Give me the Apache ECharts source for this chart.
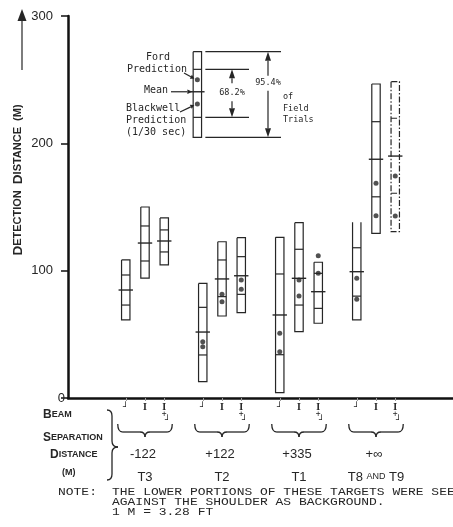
<!DOCTYPE html>
<html>
<head>
<meta charset="utf-8">
<script src="https://cdn.jsdelivr.net/npm/echarts@6/dist/echarts.min.js"></script>
<style>
  html, body { margin: 0; padding: 0; background: #fff; }
  #chart { width: 453px; height: 527px; }
</style>
</head>
<body>
<div id="chart"></div>
<script>
// ---- data -------------------------------------------------------------
// x slot of each box (gaps between the target groups)
const slots = [0, 1, 2, 4, 5, 6, 8, 9, 10, 12, 13, 14];
// beam configuration of each box: L = low, M = mixed, H = high
const beamKinds = ['L', 'M', 'H', 'L', 'M', 'H', 'L', 'M', 'H', 'L', 'M', 'H'];
// 95.4% of field trials (lower / upper), metres
const lower95 = [61.3, 94.2, 104.5, 12.8, 64.4, 67.0, 4.2, 52.1, 58.7, 61.3, 129.3, 130.6];
const upper95 = [108.4, 150.0, 141.4, 90.0, 122.7, 125.9, 126.2, 137.7, 106.6, 138.0, 246.6, 248.4];
// 68.2% of field trials (lower / upper)
const lower68 = [73.0, 107.6, 114.7, 33.8, 79.6, 81.4, 34.0, 73.0, 70.4, 80.0, 158.0, 160.8];
const upper68 = [96.6, 135.1, 132.0, 71.2, 108.4, 111.0, 97.4, 116.8, 97.9, 118.0, 217.0, 219.7];
// mean detection distance
const means = [84.8, 121.7, 123.3, 51.8, 93.5, 96.0, 65.2, 94.0, 83.5, 99.2, 187.5, 190.0];
// model predictions
const fordPred = [null, null, null, 44.2, 81.4, 92.7, 50.8, 92.7, 111.8, 94.0, 168.6, 174.3];
const blackwellPred = [null, null, null, 40.3, 75.6, 85.4, 36.4, 80.1, 97.9, 77.5, 143.2, 142.9];

// target groups
const groupLabels = ['T3', 'T2', 'T1', 'T8 AND T9'];
const separations = ['-122', '+122', '+335', '+\u221e'];

// explanatory key box
const keySlot = 3.72;
const keyRange95 = [204.7, 272.0];
const keyRange68 = [220.4, 258.1];
const keyMean = 240.5;
const keyFord = 250.0;
const keyBlackwell = 230.8;

const yTicks = [0, 100, 200, 300];

// box 11 (T9) is drawn dash-dot, box 9 has no top cap
const dashedBoxes = [11];
const openTopBoxes = [9];

// ---- drawing ----------------------------------------------------------
const INK = '#262626';
const chart = echarts.init(document.getElementById('chart'));

const boxData = slots.map((s, i) => [s, lower95[i], upper95[i], lower68[i], upper68[i], means[i], i]);
boxData.push([keySlot, keyRange95[0], keyRange95[1], keyRange68[0], keyRange68[1], keyMean, -1]);

const dotData = [];
slots.forEach((s, i) => {
  if (fordPred[i] != null) dotData.push([s, fordPred[i]]);
  if (blackwellPred[i] != null) dotData.push([s, blackwellPred[i]]);
});
dotData.push([keySlot, keyFord], [keySlot, keyBlackwell]);

function renderBox(params, api) {
  const x = api.value(0);
  const lo = api.coord([x, api.value(1)]);
  const cx = lo[0], yLo = lo[1];
  const yHi = api.coord([x, api.value(2)])[1];
  const y68lo = api.coord([x, api.value(3)])[1];
  const y68hi = api.coord([x, api.value(4)])[1];
  const yMean = api.coord([x, api.value(5)])[1];
  const idx = api.value(6);
  const hw = 4.2;
  const L = cx - hw, R = cx + hw;
  const st = { stroke: INK, lineWidth: 1.2, fill: null };
  if (dashedBoxes.indexOf(idx) >= 0) st.lineDash = [6, 2, 1.5, 2];
  const pts = openTopBoxes.indexOf(idx) >= 0
    ? [[L, yHi], [L, yLo], [R, yLo], [R, yHi]]
    : [[L, yHi], [L, yLo], [R, yLo], [R, yHi], [L, yHi]];
  const children = [
    { type: 'polyline', shape: { points: pts }, style: st },
    { type: 'line', shape: { x1: L, y1: y68lo, x2: R, y2: y68lo }, style: st },
    { type: 'line', shape: { x1: L, y1: y68hi, x2: R, y2: y68hi }, style: st },
    { type: 'line', shape: { x1: L - 3, y1: yMean, x2: R + 3, y2: yMean }, style: { stroke: INK, lineWidth: 1.4 } }
  ];
  return { type: 'group', children };
}

function beamLabel(v) {
  const i = slots.indexOf(v);
  if (i < 0) return '';
  const k = beamKinds[i];
  if (k === 'L') return '{g|\u2518}';
  if (k === 'M') return '{i|I}';
  return '{i|I}\n{p|+}\n{r|\u2518}';
}

chart.setOption({
  animation: false,
  backgroundColor: '#fff',
  grid: { left: 68, right: 0, top: 16, bottom: 129, containLabel: false },
  xAxis: {
    type: 'value', min: -3, max: 17,
    axisLine: { onZero: false, lineStyle: { color: '#111', width: 2.5 } },
    axisTick: { customValues: slots, length: 3, lineStyle: { color: '#999', width: 1 } },
    axisLabel: {
      customValues: slots, margin: 5, color: INK, formatter: beamLabel,
      rich: {
        g: { fontFamily: 'DejaVu Sans Mono', fontSize: 9, lineHeight: 9, color: INK },
        i: { fontFamily: 'Liberation Serif', fontSize: 10, fontWeight: 'bold', lineHeight: 8, color: INK },
        p: { fontFamily: 'DejaVu Sans Mono', fontSize: 8, lineHeight: 5, color: INK },
        r: { fontFamily: 'DejaVu Sans Mono', fontSize: 9, lineHeight: 9, padding: [0, 0, 0, 7], color: INK }
      }
    },
    splitLine: { show: false }
  },
  yAxis: {
    type: 'value', min: 0, max: 300, interval: 100,
    axisLine: { show: true, onZero: false, lineStyle: { color: '#111', width: 2.5 } },
    axisTick: { show: true, length: 7, lineStyle: { color: '#111', width: 1.5 } },
    axisLabel: {
      margin: 3,
      customValues: yTicks,
      formatter: v => (v === 0 ? '{z|0}' : '{n|' + v + '}'),
      rich: {
        z: { fontFamily: 'Liberation Sans', fontSize: 13, color: INK },
        n: { fontFamily: 'Liberation Sans', fontSize: 13, color: INK, padding: [0, 12, 0, 0] }
      }
    },
    splitLine: { show: false }
  },
  series: [
    { type: 'custom', renderItem: renderBox, data: boxData, clip: false, z: 2,
      encode: { x: 0, y: [1, 2] } },
    { type: 'scatter', data: dotData, symbol: 'circle', symbolSize: 5,
      itemStyle: { color: INK }, z: 3 }
  ]
});

// ---- annotations (key, axis title, group labels, note) -----------------
const px = (x, y) => chart.convertToPixel({ gridIndex: 0 }, [x, y]);
const yPx = v => px(0, v)[1];
const xPx = s => px(s, 0)[0];

function arrowEls(x1, y1, x2, y2, len, w) {
  const dx = x2 - x1, dy = y2 - y1, d = Math.hypot(dx, dy);
  const ux = dx / d, uy = dy / d;
  const bx = x2 - ux * len, by = y2 - uy * len;
  return [
    { type: 'line', shape: { x1, y1, x2: bx, y2: by }, style: { stroke: INK, lineWidth: 1.2 } },
    { type: 'polygon', shape: { points: [[x2, y2], [bx - uy * w, by + ux * w], [bx + uy * w, by - ux * w]] },
      style: { fill: INK } }
  ];
}
function txt(x, y, text, o) {
  o = o || {};
  return {
    type: 'text', x, y, rotation: o.rotation || 0, scaleX: o.scaleX || 1,
    style: {
      text, fill: INK,
      font: o.font || '10px "DejaVu Sans Mono"',
      textAlign: o.align || 'left', textVerticalAlign: 'middle', verticalAlign: 'middle',
      rich: o.rich
    }
  };
}
function line(x1, y1, x2, y2, w) {
  return { type: 'line', shape: { x1, y1, x2, y2 }, style: { stroke: INK, lineWidth: w || 1.2 } };
}
function curve(x1, y1, cx, cy, x2, y2, w) {
  return { type: 'bezierCurve', shape: { x1, y1, x2, y2, cpx1: cx, cpy1: cy },
    style: { stroke: INK, lineWidth: w || 1.2, fill: null } };
}
// horizontal brace opening upwards, point downwards
function hBrace(x1, x2, yEnd, yBar, yTip) {
  const m = (x1 + x2) / 2, r = 5;
  return [
    curve(x1, yEnd, x1, yBar, x1 + r, yBar, 1.3),
    line(x1 + r, yBar, m - r, yBar, 1.3),
    curve(m - r, yBar, m, yBar, m, yTip, 1.3),
    curve(m, yTip, m, yBar, m + r, yBar, 1.3),
    line(m + r, yBar, x2 - r, yBar, 1.3),
    curve(x2 - r, yBar, x2, yBar, x2, yEnd, 1.3)
  ];
}
// vertical brace opening leftwards, point to the right
function vBrace(y1, y2, xEnd, xBar, xTip, yMid) {
  const r = 6;
  return [
    curve(xEnd, y1, xBar, y1, xBar, y1 + r, 1.3),
    line(xBar, y1 + r, xBar, yMid - r, 1.3),
    curve(xBar, yMid - r, xBar, yMid, xTip, yMid, 1.3),
    curve(xTip, yMid, xBar, yMid, xBar, yMid + r, 1.3),
    line(xBar, yMid + r, xBar, y2 - r, 1.3),
    curve(xBar, y2 - r, xBar, y2, xEnd, y2, 1.3)
  ];
}

const els = [];

// vertical axis title with its arrow
const sc = {
  b: { fontFamily: 'Liberation Sans', fontSize: 13.5, fontWeight: 'bold', fill: INK, color: INK },
  s: { fontFamily: 'Liberation Sans', fontSize: 11, fontWeight: 'bold', fill: INK, color: INK }
};
els.push(txt(18, 180, '{b|D}{s|ETECTION} {b|D}{s|ISTANCE} {s|(M)}', { rotation: Math.PI / 2, align: 'center', rich: sc }));
els.push(...arrowEls(22, 70, 22, 9, 12, 4.5));

// key box legend
const kx = xPx(keySlot);
const kTop = yPx(keyRange95[1]), kBot = yPx(keyRange95[0]);
const k68t = yPx(keyRange68[1]), k68b = yPx(keyRange68[0]);
const kMean = yPx(keyMean), kFord = yPx(keyFord), kBw = yPx(keyBlackwell);
els.push(line(kx + 8, kTop, 281, kTop), line(kx + 8, kBot, 281, kBot));
els.push(line(kx + 8, k68t, 249, k68t), line(kx + 8, k68b, 249, k68b));
els.push(...arrowEls(268, kTop + 24, 268, kTop, 9, 3));
els.push(...arrowEls(268, kTop + 39, 268, kBot, 9, 3));
els.push(txt(268, kTop + 31, '95.4%', { align: 'center', font: '8.5px "DejaVu Sans Mono"' }));
els.push(...arrowEls(232, k68t + 14, 232, k68t, 9, 3));
els.push(...arrowEls(232, k68t + 32, 232, k68b, 9, 3));
els.push(txt(232, k68t + 23, '68.2%', { align: 'center', font: '8.5px "DejaVu Sans Mono"' }));
els.push(txt(283, 97, 'of', { font: '8.5px "DejaVu Sans Mono"' }));
els.push(txt(283, 109, 'Field', { font: '8.5px "DejaVu Sans Mono"' }));
els.push(txt(283, 120, 'Trials', { font: '8.5px "DejaVu Sans Mono"' }));

els.push(txt(158, 57, 'Ford', { align: 'center' }));
els.push(txt(157, 69, 'Prediction', { align: 'center' }));
els.push(...arrowEls(184, 73, kx - 3, kFord - 1, 4, 2.2));
els.push(txt(156, 90, 'Mean', { align: 'center' }));
els.push(...arrowEls(171, kMean, kx - 5, kMean, 5, 2.2));
els.push(txt(126, 108, 'Blackwell'));
els.push(txt(126, 120, 'Prediction'));
els.push(txt(126, 132, '(1/30 sec)'));
els.push(...arrowEls(180, 112, kx - 3, kBw + 1, 4, 2.2));

// beam separation block under the axis
const scs = {
  b: { fontFamily: 'Liberation Sans', fontSize: 12, fontWeight: 'bold', fill: INK, color: INK },
  s: { fontFamily: 'Liberation Sans', fontSize: 9, fontWeight: 'bold', fill: INK, color: INK }
};
els.push(txt(43, 415, '{b|B}{s|EAM}', { rich: scs }));
els.push(txt(43, 438, '{b|S}{s|EPARATION}', { rich: scs }));
els.push(txt(50, 455, '{b|D}{s|ISTANCE}', { rich: scs }));
els.push(txt(62, 473, '{s|(M)}', { rich: scs }));
els.push(...vBrace(410, 480, 107, 112, 118, 447));

const groupStarts = [0, 3, 6, 9];
groupStarts.forEach((g, k) => {
  const x1 = xPx(slots[g]) - 8, x2 = xPx(slots[g + 2]) + 8, m = (x1 + x2) / 2;
  els.push(...hBrace(x1, x2, 424, 432, 437));
  els.push(txt(m - 2, 454, separations[k], { align: 'center', font: '13px "Liberation Sans"' }));
});
els.push(txt(xPx(1), 477, 'T3', { align: 'center', font: '13px "Liberation Sans"' }));
els.push(txt(xPx(5), 477, 'T2', { align: 'center', font: '13px "Liberation Sans"' }));
els.push(txt(xPx(9), 477, 'T1', { align: 'center', font: '13px "Liberation Sans"' }));
els.push(txt(xPx(13), 477, '{t|T8 }{a|AND}{t| T9}', {
  align: 'center',
  rich: {
    t: { fontFamily: 'Liberation Sans', fontSize: 13, fill: INK, color: INK },
    a: { fontFamily: 'Liberation Sans', fontSize: 9, fill: INK, color: INK }
  }
}));

// note
const noteFont = '11px "Liberation Mono"';
els.push(txt(58, 492, 'NOTE:', { font: noteFont, scaleX: 1.18 }));
els.push(txt(112, 492, 'THE LOWER PORTIONS OF THESE TARGETS WERE SEEN', { font: noteFont, scaleX: 1.18 }));
els.push(txt(112, 502, 'AGAINST THE SHOULDER AS BACKGROUND.', { font: noteFont, scaleX: 1.18 }));
els.push(txt(112, 512, '1 M = 3.28 FT', { font: noteFont, scaleX: 1.18 }));

chart.setOption({ graphic: { elements: els } });
</script>
</body>
</html>
